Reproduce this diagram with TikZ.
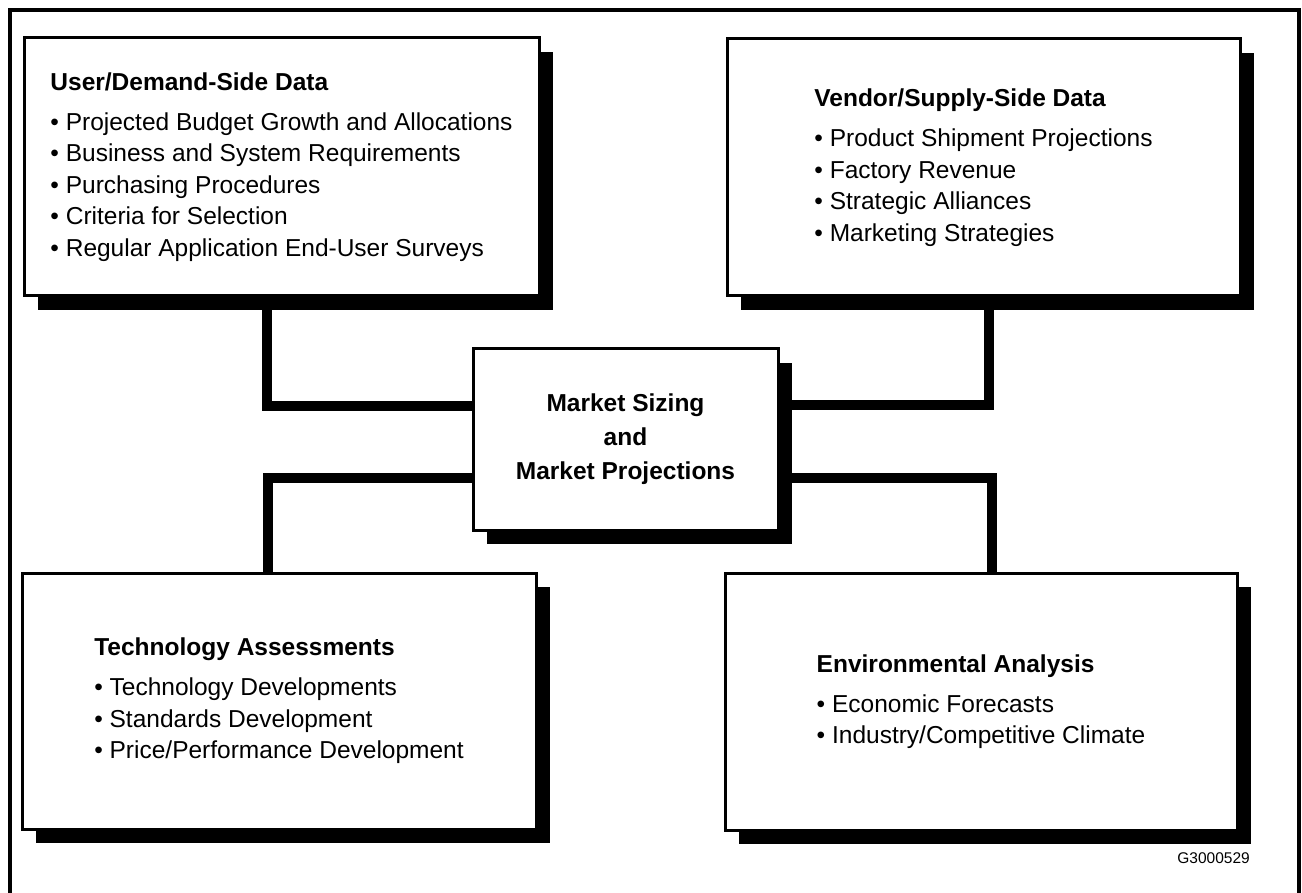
\documentclass[tikz,border=0pt]{standalone}
\usepackage{fontspec}
\setmainfont{Liberation Sans}
\usetikzlibrary{shadows}

\begin{document}
\begin{tikzpicture}[x=1pt, y=-1pt,
  panel/.style={draw=black, line width=3pt, fill=white, inner sep=0pt, outer sep=0pt,
    drop shadow={shadow xshift=14pt, shadow yshift=-14pt, fill=black, opacity=1},
    align=left, font=\fontsize{24.5pt}{31.6pt}\selectfont},
  hub/.style={panel, align=center, font=\fontsize{24.5pt}{34pt}\selectfont\bfseries},
  link/.style={line width=9.5pt, line cap=butt, line join=miter},
  frame/.style={line width=4pt},
  tag/.style={font=\fontsize{15.5pt}{18pt}\selectfont, inner sep=0pt}
]
\useasboundingbox (0,0) rectangle (1302,893);

% outer frame, running off the bottom edge
\draw[frame] (10,900) -- (10,10) -- (1299,10) -- (1299,900);

% data sources
\node[panel, minimum width=515pt, minimum height=258pt] (demand) at (281.5,167)
  {{\bfseries User/Demand-Side Data}\\[8.4pt]
   • Projected Budget Growth and Allocations\\
   • Business and System Requirements\\
   • Purchasing Procedures\\
   • Criteria for Selection\\
   • Regular Application End-User Surveys};

\node[panel, minimum width=513pt, minimum height=257pt] (supply) at (983.5,167.5)
  {{\bfseries Vendor/Supply-Side Data}\\[8.4pt]
   • Product Shipment Projections\\
   • Factory Revenue\\
   • Strategic Alliances\\
   • Marketing Strategies};

\node[panel, minimum width=514pt, minimum height=256pt] (tech) at (279,701)
  {{\bfseries Technology Assessments}\\[8.4pt]
   • Technology Developments\\
   • Standards Development\\
   • Price/Performance Development};

\node[panel, minimum width=512pt, minimum height=257pt] (env) at (981,701.5)
  {{\bfseries Environmental Analysis}\\[8.4pt]
   • Economic Forecasts\\
   • Industry/Competitive Climate};

% central result
\node[hub, minimum width=305pt, minimum height=181pt] (mid) at (625.5,439.5)
  {Market Sizing\\and\\Market Projections};

% connectors from each source to the centre
\draw[link] ([xshift=243pt]demand.south west) |- ([yshift=33.5pt]mid.west);
\draw[link] ([yshift=-38.5pt]mid.west) -| ([xshift=246pt]tech.north west);
\draw[link] ([yshift=34.5pt]mid.east) -| ([xshift=262pt]supply.south west);
\draw[link] ([yshift=-38.5pt]mid.east) -| ([xshift=267pt]env.north west);

% figure code
\node[tag, anchor=base east] (code) at (1250,863) {G3000529};
\end{tikzpicture}
\end{document}
